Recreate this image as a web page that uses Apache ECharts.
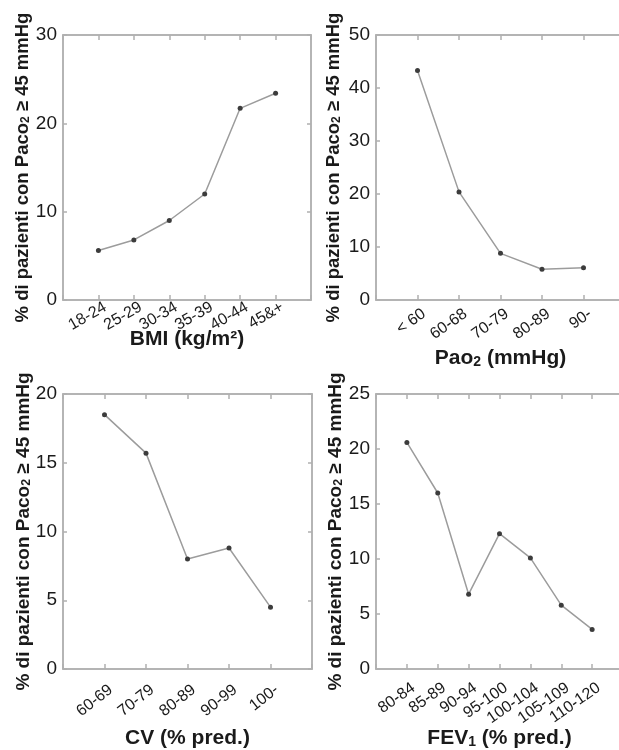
<!DOCTYPE html>
<html>
<head>
<meta charset="utf-8">
<script src="https://cdn.jsdelivr.net/npm/echarts@6/dist/echarts.min.js"></script>
<style>
html,body{margin:0;padding:0;background:#fff;}
#c{width:619px;height:750px;}
</style>
</head>
<body>
<div id="c"></div>
<script>
// ---- data ----
const bmiCats = ['18-24', '25-29', '30-34', '35-39', '40-44', '45&+'];
const bmiVals = [5.6, 6.8, 9.0, 12.0, 21.7, 23.4];
const paoCats = ['< 60', '60-68', '70-79', '80-89', '90-'];
const paoVals = [43.3, 20.4, 8.8, 5.8, 6.1];
const cvCats = ['60-69', '70-79', '80-89', '90-99', '100-'];
const cvVals = [18.5, 15.7, 8.0, 8.8, 4.5];
const fevCats = ['80-84', '85-89', '90-94', '95-100', '100-104', '105-109', '110-120'];
const fevVals = [20.6, 16.0, 6.8, 12.3, 10.1, 5.8, 3.6];
const yTicks1 = [0, 10, 20, 30];
const yTicks2 = [0, 10, 20, 30, 40, 50];
const yTicks3 = [0, 5, 10, 15, 20];
const yTicks4 = [0, 5, 10, 15, 20, 25];

const FONT = 'Liberation Sans, Arial, Helvetica, sans-serif';
const TXT = '#1a1a1a';
const BORDER = '#b0b0b0';

function bold(size) {
  return { fontFamily: FONT, fontWeight: 'bold', fontSize: size, color: TXT };
}
function sub(size) {
  return { fontFamily: FONT, fontWeight: 'bold', fontSize: size, color: TXT, verticalAlign: 'bottom', lineHeight: 2 };
}

const yTitle = '{b|% di pazienti con Paco}{s|2}{b| \u2265 45 mmHg}';

const panels = [
  { cats: bmiCats, vals: bmiVals, ticks: yTicks1, grid: { left: 63, top: 35, width: 248, height: 265 },
    xname: '{b|BMI (kg/m\u00B2)}', xgap: 29, ygap: 31, yfs: 18.5, lm: 10, rot: 30 },
  { cats: paoCats, vals: paoVals, ticks: yTicks2, grid: { left: 376, top: 35, width: 249, height: 265 },
    xname: '{b|Pao}{s|2}{b| (mmHg)}', xgap: 48, ygap: 33, yfs: 18.5, lm: 17, rot: 35 },
  { cats: cvCats, vals: cvVals, ticks: yTicks3, grid: { left: 63, top: 394, width: 249, height: 275 },
    xname: '{b|CV (% pred.)}', xgap: 59, ygap: 30, yfs: 19, lm: 24, rot: 38 },
  { cats: fevCats, vals: fevVals, ticks: yTicks4, grid: { left: 376, top: 394, width: 247, height: 275 },
    xname: '{b|FEV}{s|1}{b| (% pred.)}', xgap: 59, ygap: 31, yfs: 19, lm: 22, rot: 35 }
];

const option = { animation: false, grid: [], xAxis: [], yAxis: [], series: [] };

const line = { show: true, onZero: false, lineStyle: { color: BORDER, width: 1.5 } };
const tick = { show: true, inside: true, length: 5, lineStyle: { color: BORDER, width: 1.5 } };

panels.forEach((p, i) => {
  const n = p.cats.length;
  const yMax = p.ticks[p.ticks.length - 1];
  const yStep = p.ticks[1] - p.ticks[0];
  option.grid.push(Object.assign({ show: true, borderColor: BORDER, borderWidth: 1.5, backgroundColor: '#fff',
    containLabel: false, outerBoundsMode: 'none' }, p.grid));
  // bottom x axis
  option.xAxis.push({
    gridIndex: i, type: 'value', position: 'bottom', min: -1, max: n, interval: 1,
    splitLine: { show: false }, axisLine: line, axisTick: tick,
    axisLabel: {
      rotate: p.rot, margin: p.lm, fontFamily: FONT, fontSize: 16, color: TXT,
      padding: [0, -8, 0, 0],
      showMinLabel: true, showMaxLabel: true, hideOverlap: false,
      formatter: v => (p.cats[v] !== undefined ? p.cats[v] : '')
    },
    name: p.xname, nameLocation: 'middle', nameGap: p.xgap, nameMoveOverlap: false,
    nameTextStyle: { rich: { b: bold(21), s: sub(14) } }
  });
  // top x axis (ticks only)
  option.xAxis.push({
    gridIndex: i, type: 'value', position: 'top', min: -1, max: n, interval: 1,
    splitLine: { show: false }, axisLine: line, axisTick: tick,
    axisLabel: { show: false }
  });
  // left y axis
  option.yAxis.push({
    gridIndex: i, type: 'value', position: 'left', min: 0, max: yMax, interval: yStep,
    splitLine: { show: false }, axisLine: line, axisTick: Object.assign({}, tick, { length: 4 }),
    axisLabel: { margin: 6, fontFamily: FONT, fontSize: 19, color: TXT },
    name: yTitle, nameLocation: 'middle', nameGap: p.ygap, nameRotate: 90, nameMoveOverlap: false,
    nameTextStyle: { rich: { b: bold(p.yfs), s: sub(p.yfs * 0.65) } }
  });
  // right y axis (ticks only)
  option.yAxis.push({
    gridIndex: i, type: 'value', position: 'right', min: 0, max: yMax, interval: yStep,
    splitLine: { show: false }, axisLine: line, axisTick: Object.assign({}, tick, { length: 4 }),
    axisLabel: { show: false }
  });
  option.series.push({
    type: 'line', xAxisIndex: 2 * i, yAxisIndex: 2 * i,
    data: p.vals.map((v, k) => [k, v]),
    symbol: 'circle', symbolSize: 5,
    lineStyle: { color: '#9c9c9c', width: 1.5 },
    itemStyle: { color: '#3c3c3c' },
    z: 5
  });
});

const chart = echarts.init(document.getElementById('c'), null, { renderer: 'canvas' });
chart.setOption(option);
</script>
</body>
</html>
